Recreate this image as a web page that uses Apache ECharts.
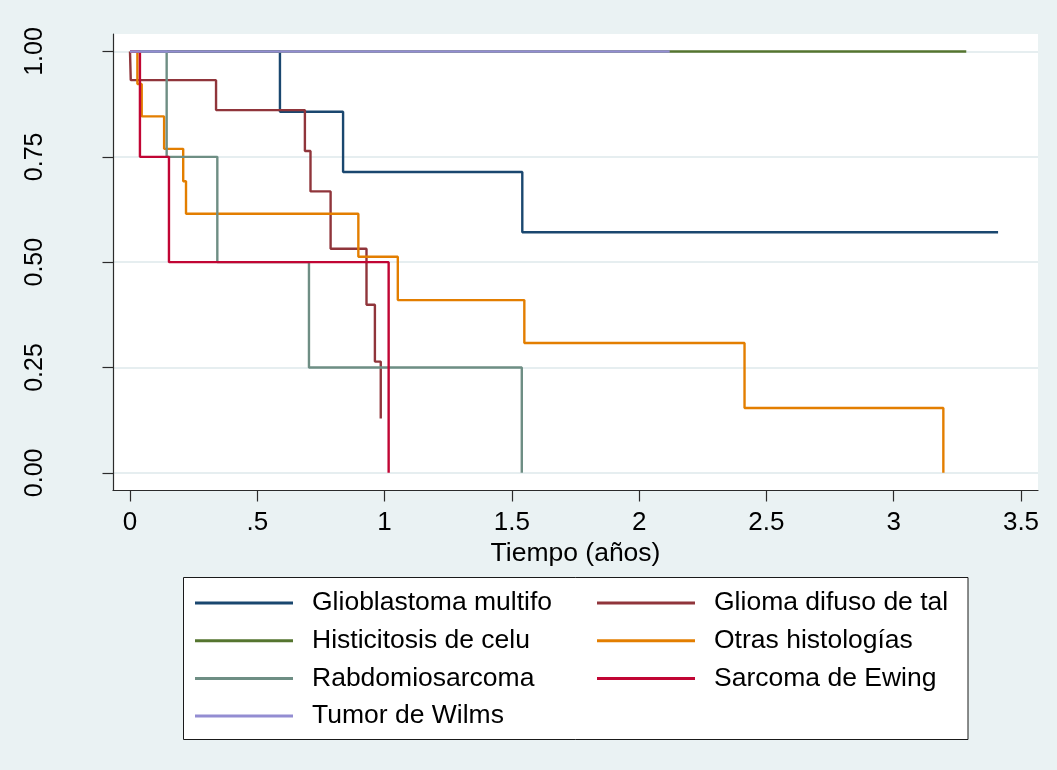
<!DOCTYPE html>
<html>
<head>
<meta charset="utf-8">
<script src="https://cdn.jsdelivr.net/npm/echarts@6/dist/echarts.min.js"></script>
<style>
  html, body { margin: 0; padding: 0; background: #EAF2F3; }
  #chart { width: 1057px; height: 770px; }
</style>
</head>
<body>
<div id="chart"></div>
<script>
// Kaplan-Meier survival estimates by histology (time in years, survival fraction)
const seriesNames = [
  'Glioblastoma multifo', 'Glioma difuso de tal', 'Histicitosis de celu',
  'Otras histologías', 'Rabdomiosarcoma', 'Sarcoma de Ewing', 'Tumor de Wilms'
];
const seriesColors = ['#1A476F', '#90353B', '#55752F', '#E37E00', '#6E8E84', '#C10534', '#938DD2'];

const glioblastomaTime = [0, 0.589, 0.837, 1.541, 3.41];
const glioblastomaSurv = [1, 0.857, 0.714, 0.571, 0.571];

const gliomaTime = [0, 0.003, 0.338, 0.687, 0.709, 0.788, 0.929, 0.962, 0.985];
const gliomaSurv = [1, 0.932, 0.861, 0.764, 0.668, 0.532, 0.399, 0.264, 0.129];

const histiocitosisTime = [0, 3.285];
const histiocitosisSurv = [1, 1];

const otrasTime = [0, 0.029, 0.046, 0.134, 0.209, 0.22, 0.897, 1.052, 1.549, 2.414, 3.195];
const otrasSurv = [1, 0.923, 0.846, 0.769, 0.692, 0.615, 0.513, 0.410, 0.308, 0.154, 0];

const rabdoTime = [0, 0.144, 0.343, 0.703, 1.539];
const rabdoSurv = [1, 0.75, 0.5, 0.25, 0];

const ewingTime = [0, 0.039, 0.153, 1.016];
const ewingSurv = [1, 0.75, 0.5, 0];

const wilmsTime = [0, 2.12];
const wilmsSurv = [1, 1];

const xTicks = [0, 0.5, 1, 1.5, 2, 2.5, 3, 3.5];
const xTickLabels = ['0', '.5', '1', '1.5', '2', '2.5', '3', '3.5'];
const yTicks = [0, 0.25, 0.5, 0.75, 1];
const yTickLabels = ['0.00', '0.25', '0.50', '0.75', '1.00'];

const legendLeftColumn = ['Glioblastoma multifo', 'Histicitosis de celu', 'Rabdomiosarcoma', 'Tumor de Wilms'];
const legendRightColumn = ['Glioma difuso de tal', 'Otras histologías', 'Sarcoma de Ewing'];

const curves = [
  [glioblastomaTime, glioblastomaSurv],
  [gliomaTime, gliomaSurv],
  [histiocitosisTime, histiocitosisSurv],
  [otrasTime, otrasSurv],
  [rabdoTime, rabdoSurv],
  [ewingTime, ewingSurv],
  [wilmsTime, wilmsSurv]
];

const FONT = 'Liberation Sans, Arial, sans-serif';

function tickLabel(values, labels) {
  return function (v) {
    for (let i = 0; i < values.length; i++) {
      if (Math.abs(values[i] - v) < 1e-9) return labels[i];
    }
    return '';
  };
}

const series = curves.map(function (c, i) {
  const pts = c[0].map(function (t, k) { return [t, c[1][k]]; });
  return {
    name: seriesNames[i],
    type: 'line',
    step: 'end',
    data: pts,
    showSymbol: false,
    symbol: 'none',
    color: seriesColors[i],
    itemStyle: { color: seriesColors[i] },
    lineStyle: { color: seriesColors[i], width: 2.4 },
    emphasis: { disabled: true }
  };
});

function legendBlock(names, left) {
  return {
    data: names,
    orient: 'vertical',
    left: left,
    top: 588,
    padding: 0,
    icon: 'rect',
    itemWidth: 98,
    itemHeight: 3,
    itemGap: 7.7,
    selectedMode: false,
    textStyle: {
      fontFamily: FONT,
      fontSize: 26.5,
      color: '#000',
      lineHeight: 30,
      padding: [0, 0, 0, 14]
    }
  };
}

const chart = echarts.init(document.getElementById('chart'), null, { renderer: 'canvas' });
chart.setOption({
  animation: false,
  backgroundColor: '#EAF2F3',
  grid: {
    left: 113, right: 19, top: 34, bottom: 279.5,
    show: true, backgroundColor: '#ffffff', borderWidth: 0
  },
  xAxis: {
    type: 'value',
    min: -0.0668,
    max: 3.5668,
    name: 'Tiempo (años)',
    nameLocation: 'middle',
    nameGap: 41,
    nameTextStyle: { fontFamily: FONT, fontSize: 26.5, color: '#000' },
    axisLine: { show: true, onZero: false, lineStyle: { color: '#2b2b2b', width: 1.2 } },
    axisTick: { show: true, inside: false, length: 11, customValues: xTicks, lineStyle: { color: '#2b2b2b', width: 1.2 } },
    axisLabel: {
      customValues: xTicks,
      formatter: tickLabel(xTicks, xTickLabels),
      margin: 19,
      fontFamily: FONT, fontSize: 26, color: '#000'
    },
    splitLine: { show: false }
  },
  yAxis: {
    type: 'value',
    min: -0.042,
    max: 1.0416,
    axisLine: { show: true, onZero: false, lineStyle: { color: '#2b2b2b', width: 1.2 } },
    axisTick: { show: true, inside: false, length: 10.5, customValues: yTicks, lineStyle: { color: '#2b2b2b', width: 1.2 } },
    axisLabel: {
      customValues: yTicks,
      formatter: tickLabel(yTicks, yTickLabels),
      rotate: 90,
      margin: 65,
      fontFamily: FONT, fontSize: 25, color: '#000'
    },
    splitLine: { show: true, lineStyle: { color: '#E6EEF0', width: 2 } }
  },
  legend: [legendBlock(legendLeftColumn, 195), legendBlock(legendRightColumn, 597)],
  graphic: [{
    type: 'rect',
    z: 1,
    shape: { x: 183.5, y: 577.5, width: 784.5, height: 162 },
    style: { fill: '#ffffff', stroke: '#1a1a1a', lineWidth: 1 }
  }],
  series: series
});
</script>
</body>
</html>
